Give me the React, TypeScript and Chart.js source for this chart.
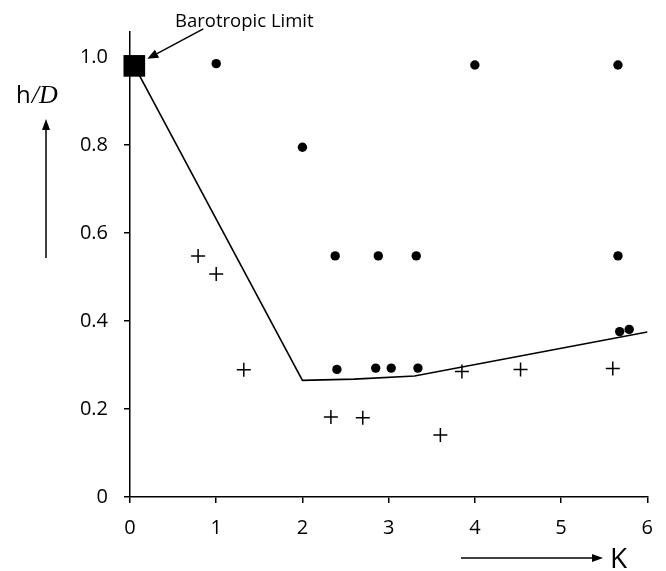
import React, { useEffect, useRef } from "react";
import { Chart, registerables } from "chart.js";

Chart.register(...registerables);

// Data
const circleK = [1.0, 2.0, 4.0, 5.66, 2.38, 2.88, 3.32, 5.66, 2.4, 2.85, 3.03, 3.34, 5.68, 5.79];
const circleH = [0.985, 0.795, 0.982, 0.982, 0.548, 0.548, 0.548, 0.548, 0.29, 0.293, 0.293, 0.293, 0.376, 0.381];
const crossK = [0.79, 1.0, 1.32, 2.33, 2.7, 3.6, 3.85, 4.53, 5.6];
const crossH = [0.548, 0.507, 0.289, 0.182, 0.18, 0.141, 0.285, 0.29, 0.292];
const lineK = [0.05, 2.0, 2.6, 3.3, 6.0];
const lineH = [0.98, 0.265, 0.268, 0.275, 0.375];
const limitK = [0.05];
const limitH = [0.98];
const xTicks = [0, 1, 2, 3, 4, 5, 6];
const yTicks = [0, 0.2, 0.4, 0.6, 0.8, 1.0];

const toPts = (xs: number[], ys: number[]) => xs.map((x, i) => ({ x, y: ys[i] }));

const FONT = "'Open Sans', sans-serif";

function arrow(ctx: CanvasRenderingContext2D, x1: number, y1: number, x2: number, y2: number, head = 11, hw = 4.5) {
  const a = Math.atan2(y2 - y1, x2 - x1);
  const bx = x2 - head * Math.cos(a);
  const by = y2 - head * Math.sin(a);
  ctx.beginPath();
  ctx.moveTo(x1, y1);
  ctx.lineTo(bx, by);
  ctx.lineWidth = 1.5;
  ctx.strokeStyle = "#000";
  ctx.stroke();
  ctx.beginPath();
  ctx.moveTo(x2, y2);
  ctx.lineTo(bx + hw * Math.sin(a), by - hw * Math.cos(a));
  ctx.lineTo(bx - hw * Math.sin(a), by + hw * Math.cos(a));
  ctx.closePath();
  ctx.fillStyle = "#000";
  ctx.fill();
}

const annotations = {
  id: "annotations",
  afterDraw(chart: any) {
    const ctx = chart.ctx as CanvasRenderingContext2D;
    const xs = chart.scales.x;
    const ys = chart.scales.y;
    ctx.save();
    // Barotropic limit label + arrow
    const sx = xs.getPixelForValue(limitK[0]);
    const sy = ys.getPixelForValue(limitH[0]);
    ctx.fillStyle = "#000";
    ctx.font = `18.5px ${FONT}`;
    ctx.textAlign = "center";
    ctx.textBaseline = "alphabetic";
    ctx.fillText("Barotropic Limit", sx + 110, sy - 39);
    arrow(ctx, sx + 69, sy - 37, sx + 13, sy - 7, 11, 4.5);

    // y-axis title h/D with up arrow
    ctx.textAlign = "left";
    ctx.font = `24px ${FONT}`;
    const hx = 16;
    const hy = 103;
    ctx.fillText("h", hx, hy);
    const hw = ctx.measureText("h").width;
    ctx.font = `italic 26px 'Liberation Serif', serif`;
    ctx.fillText("/D", hx + hw + 1, hy);
    arrow(ctx, 46, 258, 46, 119, 11, 4);

    // x-axis title K with right arrow
    arrow(ctx, 461, 558, 603, 558, 11, 4);
    ctx.font = `28px ${FONT}`;
    ctx.fillText("K", 610, 568);
    ctx.restore();
  },
};

export default function App() {
  const ref = useRef<HTMLCanvasElement | null>(null);
  useEffect(() => {
    if (!ref.current) return;
    const chart = new Chart(ref.current, {
      type: "scatter",
      data: {
        datasets: [
          {
            label: "Barotropic Limit",
            data: toPts(limitK, limitH),
            pointStyle: "rect",
            pointRadius: 15.3,
            backgroundColor: "#000",
            borderColor: "#000",
            borderWidth: 0,
            clip: false as any,
          },
          {
            label: "Stable",
            data: toPts(circleK, circleH),
            pointStyle: "circle",
            pointRadius: 4.7,
            backgroundColor: "#000",
            borderColor: "#000",
            borderWidth: 0,
            clip: false as any,
          },
          {
            label: "Unstable",
            data: toPts(crossK, crossH),
            pointStyle: "cross",
            pointRadius: 7,
            backgroundColor: "#000",
            borderColor: "#000",
            borderWidth: 1.5,
            clip: false as any,
          },
          {
            label: "Boundary",
            data: toPts(lineK, lineH),
            showLine: true,
            pointRadius: 0,
            borderColor: "#000",
            borderWidth: 1.6,
            tension: 0,
            clip: false as any,
          },
        ],
      },
      options: {
        animation: false,
        responsive: false,
        devicePixelRatio: 1,
        layout: { padding: { left: 70, right: 18, top: 32, bottom: 24 } },
        plugins: { legend: { display: false }, tooltip: { enabled: false } },
        scales: {
          x: {
            type: "linear",
            min: 0,
            max: 6,
            afterFit: (s: any) => {
              s.height = 50;
            },
            afterBuildTicks: (s: any) => {
              s.ticks = xTicks.map((v) => ({ value: v }));
            },
            ticks: {
              color: "#000",
              font: { family: FONT, size: 20 },
              padding: 13,
              maxRotation: 0,
              callback: (v: any) => String(v),
            },
            grid: { display: true, drawOnChartArea: false, drawTicks: true, tickLength: 6, color: "#000", lineWidth: 1.5 },
            border: { display: true, color: "#000", width: 1.5 },
          },
          y: {
            type: "linear",
            min: 0,
            max: 1.057,
            afterFit: (s: any) => {
              s.width = 60;
            },
            afterBuildTicks: (s: any) => {
              s.ticks = yTicks.map((v) => ({ value: v }));
            },
            ticks: {
              color: "#000",
              font: { family: FONT, size: 20 },
              padding: 16,
              callback: (v: any) => (Number(v) === 0 ? "0" : Number(v).toFixed(1)),
            },
            grid: { display: true, drawOnChartArea: false, drawTicks: true, tickLength: 6, color: "#000", lineWidth: 1.5 },
            border: { display: true, color: "#000", width: 1.5 },
          },
        },
      },
      plugins: [annotations],
    } as any);
    return () => chart.destroy();
  }, []);
  return (
    <div style={{ position: "fixed", left: 0, top: 0, width: 666, height: 571, background: "#fff" }}>
      <canvas ref={ref} width={666} height={571} />
    </div>
  );
}
